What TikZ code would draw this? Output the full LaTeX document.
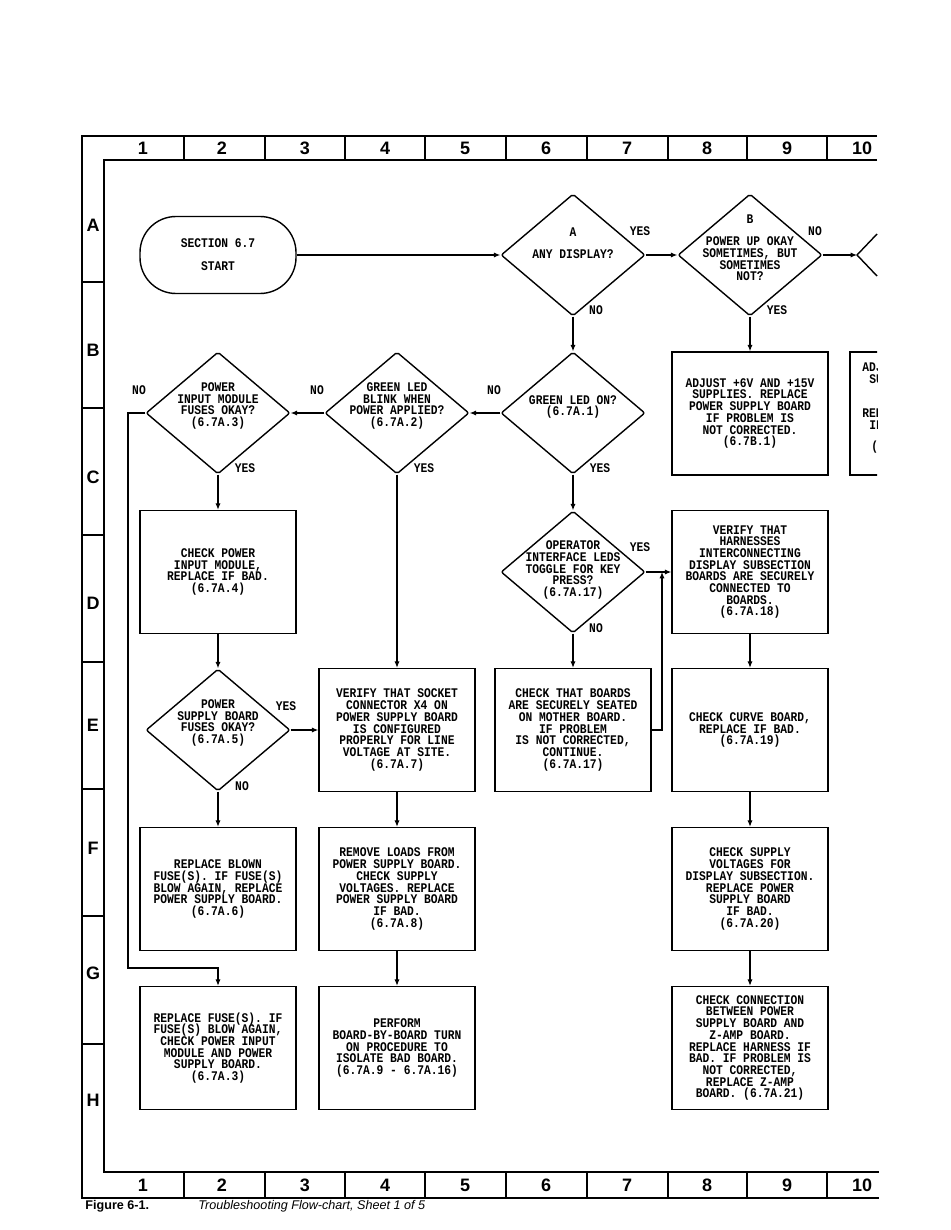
\documentclass[tikz,border=0pt]{standalone}
\usepackage{fontspec}
\usetikzlibrary{shapes.geometric,arrows.meta}
\newfontfamily\chartfont[FakeStretch=0.855]{Liberation Mono}
\newfontfamily\gridfont{Liberation Sans}
\newcommand\chartsize{\fontsize{6.6}{5.85}\selectfont\setlength{\lineskiplimit}{-10pt}}
\begin{document}
\begin{tikzpicture}[x=0.5pt,y=-0.5pt,
 txt/.style={font=\chartfont\bfseries\chartsize,align=center,inner sep=0pt},
 dec/.style={diamond,draw,line width=0.7pt,rounded corners=1pt,minimum width=72pt,minimum height=61pt,inner sep=0pt},
 act/.style={rectangle,draw,line width=0.7pt,minimum width=78pt,minimum height=61.5pt,txt},
 term/.style={rectangle,draw,line width=0.7pt,rounded corners=18pt,minimum width=78pt,minimum height=38.5pt,txt},
 lnk/.style={line width=0.55pt,-{Latex[length=3.2pt,width=2.6pt]}},
 grid/.style={font=\gridfont\bfseries\fontsize{9}{9}\selectfont,inner sep=0pt},
 frm/.style={line width=0.6pt}]
\useasboundingbox (0,0) rectangle (950,1230);
\draw[frm] (877,136) -- (82,136) -- (82,1198) -- (879,1198);
\draw[frm] (877,160) -- (104,160) -- (104,1172) -- (879,1172);
\foreach \x in {184,265,345,425,506,587,668,747,827} {\draw[frm] (\x,136) -- (\x,160); \draw[frm] (\x,1172) -- (\x,1198);}
\foreach \y in {282,408,535,662,789,916,1044} \draw[frm] (82,\y) -- (104,\y);
\foreach \n/\x in {1/143,2/222,3/305,4/385,5/465,6/546,7/627,8/707,9/787,10/862} {\node[grid] (top\n) at (\x,148) {\n}; \node[grid] (bot\n) at (\x,1185) {\n};}
\foreach \r/\y in {A/225,B/350,C/477,D/603,E/725,F/848,G/973,H/1100} \node[grid] (row\r) at (93,\y) {\r};
\node[term] (start) at (218,255) {SECTION 6.7\\[5.65pt]START};
\node[dec] (any) at (573,255) {}; \node[txt] at (573,232) {A}; \node[txt] at (573,254) {ANY DISPLAY?};
\node[dec] (okay) at (750,255) {}; \node[txt] at (750,219) {B}; \node[txt] at (750,259) {POWER UP OKAY\\SOMETIMES, BUT\\SOMETIMES\\NOT?};
\coordinate (nextdec) at (857,255);
\node[dec] (ledon) at (573,413) {}; \node[txt] at (573,407) {GREEN LED ON?\\(6.7A.1)};
\node[dec] (blink) at (397,413) {}; \node[txt] at (397,406) {GREEN LED\\BLINK WHEN\\POWER APPLIED?\\(6.7A.2)};
\node[dec] (pimfuse) at (218,413) {}; \node[txt] at (218,406) {POWER\\INPUT MODULE\\FUSES OKAY?\\(6.7A.3)};
\node[act] (adjust) at (750,413.5) {ADJUST +6V AND +15V\\SUPPLIES. REPLACE\\POWER SUPPLY BOARD\\IF PROBLEM IS\\NOT CORRECTED.\\(6.7B.1)};
\node[act] (chkpim) at (218,572) {CHECK POWER\\INPUT MODULE,\\REPLACE IF BAD.\\(6.7A.4)};
\node[dec] (opled) at (573,572) {}; \node[txt] at (573,570) {OPERATOR\\INTERFACE LEDS\\TOGGLE FOR KEY\\PRESS?\\(6.7A.17)};
\node[act] (harness) at (750,572) {VERIFY THAT\\HARNESSES\\INTERCONNECTING\\DISPLAY SUBSECTION\\BOARDS ARE SECURELY\\CONNECTED TO\\BOARDS.\\(6.7A.18)};
\node[dec] (psfuse) at (218,730) {}; \node[txt] at (218,723) {POWER\\SUPPLY BOARD\\FUSES OKAY?\\(6.7A.5)};
\node[act] (socket) at (397,730) {VERIFY THAT SOCKET\\CONNECTOR X4 ON\\POWER SUPPLY BOARD\\IS CONFIGURED\\PROPERLY FOR LINE\\VOLTAGE AT SITE.\\(6.7A.7)};
\node[act] (seated) at (573,730) {CHECK THAT BOARDS\\ARE SECURELY SEATED\\ON MOTHER BOARD.\\IF PROBLEM\\IS NOT CORRECTED,\\CONTINUE.\\(6.7A.17)};
\node[act] (curve) at (750,730) {CHECK CURVE BOARD,\\REPLACE IF BAD.\\(6.7A.19)};
\node[act] (blown) at (218,889) {REPLACE BLOWN\\FUSE(S). IF FUSE(S)\\BLOW AGAIN, REPLACE\\POWER SUPPLY BOARD.\\(6.7A.6)};
\node[act] (loads) at (397,889) {REMOVE LOADS FROM\\POWER SUPPLY BOARD.\\CHECK SUPPLY\\VOLTAGES. REPLACE\\POWER SUPPLY BOARD\\IF BAD.\\(6.7A.8)};
\node[act] (volts) at (750,889) {CHECK SUPPLY\\VOLTAGES FOR\\DISPLAY SUBSECTION.\\REPLACE POWER\\SUPPLY BOARD\\IF BAD.\\(6.7A.20)};
\node[act] (fuses) at (218,1048) {REPLACE FUSE(S). IF\\FUSE(S) BLOW AGAIN,\\CHECK POWER INPUT\\MODULE AND POWER\\SUPPLY BOARD.\\(6.7A.3)};
\node[act] (turnon) at (397,1048) {PERFORM\\BOARD-BY-BOARD TURN\\ON PROCEDURE TO\\ISOLATE BAD BOARD.\\(6.7A.9 - 6.7A.16)};
\node[act] (zamp) at (750,1048) {CHECK CONNECTION\\BETWEEN POWER\\SUPPLY BOARD AND\\Z-AMP BOARD.\\REPLACE HARNESS IF\\BAD. IF PROBLEM IS\\NOT CORRECTED,\\REPLACE Z-AMP\\BOARD. (6.7A.21)};
\node[txt] at (640,231) {YES}; \node[txt] at (596,310) {NO}; \node[txt] at (815,231) {NO}; \node[txt] at (777,310) {YES};
\node[txt] at (494,390) {NO}; \node[txt] at (600,468) {YES}; \node[txt] at (317,390) {NO}; \node[txt] at (424,468) {YES};
\node[txt] at (139,390) {NO}; \node[txt] at (245,468) {YES}; \node[txt] at (640,547) {YES}; \node[txt] at (596,628) {NO};
\node[txt] at (286,706) {YES}; \node[txt] at (242,786) {NO};
\coordinate (nofuse) at (128,968); \coordinate (join) at (662,572);
\draw[lnk] (start) -- (any); \draw[lnk] (any) -- (okay); \draw[lnk] (okay) -- (nextdec);
\draw[line width=0.7pt] (877,234) -- (nextdec) -- (877,276);
\draw[lnk] (any) -- (ledon); \draw[lnk] (okay) -- (adjust);
\draw[lnk] (ledon) -- (blink); \draw[lnk] (blink) -- (pimfuse);
\draw[lnk] (pimfuse.west) -| (nofuse) -| (fuses.north);
\draw[lnk] (pimfuse) -- (chkpim); \draw[lnk] (chkpim) -- (psfuse); \draw[lnk] (psfuse) -- (socket); \draw[lnk] (blink) -- (socket);
\draw[lnk] (psfuse) -- (blown); \draw[lnk] (socket) -- (loads); \draw[lnk] (loads) -- (turnon);
\draw[lnk] (ledon) -- (opled); \draw[lnk] (opled) -- (harness); \draw[lnk] (opled) -- (seated); \draw[lnk] (seated.east) -| (join);
\draw[lnk] (harness) -- (curve); \draw[lnk] (curve) -- (volts); \draw[lnk] (volts) -- (zamp);
\begin{scope}
\clip (840,340) rectangle (877,490);
\draw[line width=0.7pt] (900,352) -- (850,352) -- (850,475) -- (900,475);
\node[txt,anchor=west] at (862,367) {ADJ}; \node[txt,anchor=west] at (869,379) {SU};
\node[txt,anchor=west] at (862,413) {REP}; \node[txt,anchor=west] at (869,425) {IF}; \node[txt,anchor=west] at (871,447) {(6};
\end{scope}
\node[font=\gridfont\bfseries\fontsize{6.3}{7}\selectfont,anchor=base west,inner sep=0pt] (fig) at (85,1209) {Figure 6-1.};
\node[font=\gridfont\itshape\fontsize{6.3}{7}\selectfont,anchor=base west,inner sep=0pt] (cap) at (198,1209) {Troubleshooting Flow-chart, Sheet 1 of 5};
\end{tikzpicture}
\end{document}
